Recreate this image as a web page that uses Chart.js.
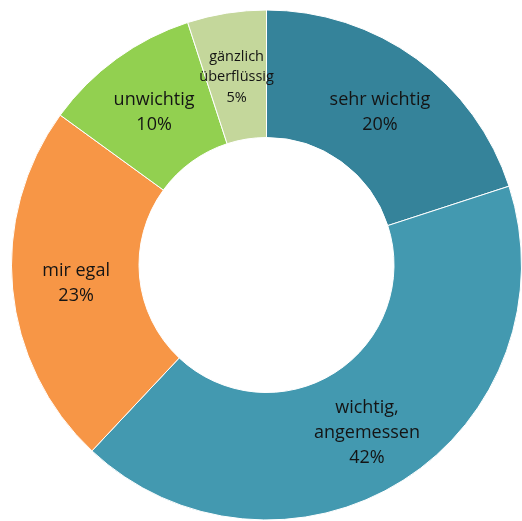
<!DOCTYPE html>
<html>
<head>
<meta charset="utf-8">
<script src="https://cdn.jsdelivr.net/npm/chart.js@4"></script>
<style>
  html, body { margin: 0; padding: 0; background: #fff; }
  #wrap { width: 522px; height: 521px; }
</style>
</head>
<body>
<div id="wrap"><canvas id="chart"></canvas></div>
<script>
// Data
const categories = ["sehr wichtig", "wichtig, angemessen", "mir egal", "unwichtig", "gänzlich überflüssig"];
const shares = [20, 42, 23, 10, 5];
const labelLines = [
  ["sehr wichtig"],
  ["wichtig,", "angemessen"],
  ["mir egal"],
  ["unwichtig"],
  ["gänzlich", "überflüssig"]
];
const colors = ["#35839A", "#4399B0", "#F79646", "#92D050", "#C4D79B"];

// small nudges from the middle of each ring slice, px
const labelShift = [[1, 2], [-2, 6], [0, 0], [0, 2], [0, 1]];

const sliceLabels = {
  id: "sliceLabels",
  afterDatasetsDraw(chart) {
    const ctx = chart.ctx;
    const arcs = chart.getDatasetMeta(0).data;
    ctx.save();
    ctx.fillStyle = "#141414";
    ctx.textAlign = "center";
    ctx.textBaseline = "middle";
    arcs.forEach((arc, i) => {
      const p = arc.getProps(["x", "y", "startAngle", "endAngle", "innerRadius", "outerRadius"], true);
      const mid = (p.startAngle + p.endAngle) / 2;
      const r = (p.innerRadius + p.outerRadius) / 2;
      const small = shares[i] < 8;
      const size = small ? 14.5 : 18;
      const lh = small ? 20.5 : 25;
      const lines = labelLines[i].concat([shares[i] + "%"]);
      const cx = p.x + Math.cos(mid) * r + labelShift[i][0];
      const cy = p.y + Math.sin(mid) * r + labelShift[i][1];
      ctx.font = size + "px 'Open Sans', sans-serif";
      const top = cy - (lines.length - 1) * lh / 2;
      lines.forEach((t, k) => ctx.fillText(t, cx, top + k * lh));
    });
    ctx.restore();
  }
};

new Chart(document.querySelector("#chart"), {
  type: "doughnut",
  data: {
    labels: categories,
    datasets: [{
      data: shares,
      backgroundColor: colors,
      borderColor: "#ffffff",
      borderWidth: 1,
      hoverOffset: 0
    }]
  },
  options: {
    responsive: true,
    maintainAspectRatio: false,
    animation: false,
    cutout: "50%",
    layout: { padding: { left: 11, right: -1, top: 9, bottom: 0 } },
    plugins: {
      legend: { display: false },
      tooltip: { enabled: false }
    }
  },
  plugins: [sliceLabels]
});
</script>
</body>
</html>
